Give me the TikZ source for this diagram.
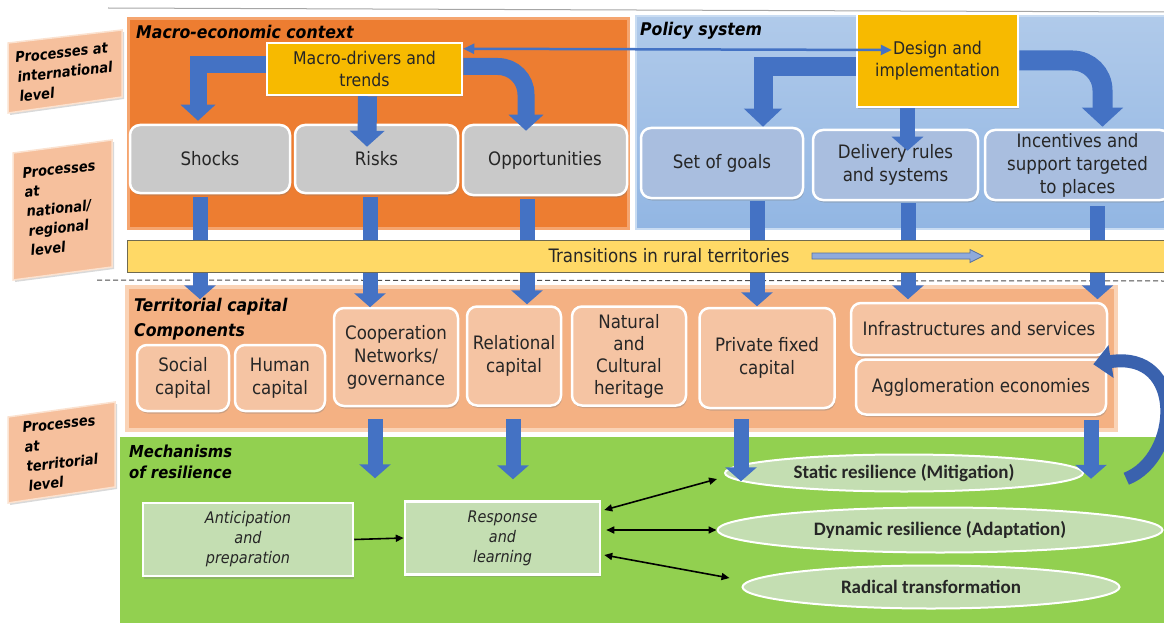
\documentclass[tikz,border=0pt]{standalone}
\usepackage{fontspec}
\setmainfont{DejaVu Sans Condensed}[BoldFont={DejaVu Sans Condensed Bold},ItalicFont={DejaVu Sans Condensed Oblique},BoldItalicFont={DejaVu Sans Condensed Bold Oblique}]
\newfontfamily\ellfont{Carlito}
\usetikzlibrary{arrows.meta,calc,shadows,shapes.geometric}
\definecolor{orangec}{HTML}{ED7D31}
\definecolor{orangeedge}{HTML}{F5A56F}
\definecolor{bluetop}{HTML}{B0CAEA}
\definecolor{bluebot}{HTML}{92B6E3}
\definecolor{blueedge}{HTML}{C9DCF2}
\definecolor{terrc}{HTML}{F4B183}
\definecolor{terredge}{HTML}{FAD3B6}
\definecolor{greenc}{HTML}{92D050}
\definecolor{grayc}{HTML}{C9C9C9}
\definecolor{boxblue}{HTML}{A9BEDF}
\definecolor{compc}{HTML}{F5C4A3}
\definecolor{goldc}{HTML}{F7BA00}
\definecolor{mechc}{HTML}{C4DEB2}
\definecolor{transc}{HTML}{FFD966}
\definecolor{transedge}{HTML}{6F6A50}
\definecolor{arrblue}{HTML}{4472C4}
\definecolor{arrdark}{HTML}{3A62AE}
\definecolor{lvlc}{HTML}{F6C09D}
\definecolor{lvledge}{HTML}{FBE2D0}
\definecolor{txtc}{HTML}{262626}
\definecolor{hollowfill}{HTML}{8FAADC}
\definecolor{hollowdraw}{HTML}{56709E}
\tikzset{
  base/.style={text=txtc, align=center, inner sep=1pt},
  mtxt/.style={font=\fontsize{18.5}{23}\selectfont},
  shad/.style={drop shadow={opacity=0.35,shadow xshift=1pt,shadow yshift=-2.5pt}},
  graybox/.style={base, mtxt, rounded corners=10pt, fill=grayc, draw=white, line width=2.5pt, shad},
  bluebox/.style={graybox, fill=boxblue},
  compbox/.style={graybox, fill=compc},
  goldbox/.style={base, mtxt, fill=goldc, draw=white, line width=2.5pt, shad},
  mechbox/.style={base, font=\itshape\fontsize{16}{20}\selectfont, fill=mechc, draw=white, line width=2.5pt, shad},
  ellbox/.style={ellipse, base, inner sep=0pt, font=\ellfont\bfseries\fontsize{19}{22}\selectfont, fill=mechc, draw=white, line width=2pt},
  titletxt/.style={anchor=west, align=left, text=black, inner sep=0pt, font=\bfseries\itshape\fontsize{17.5}{25}\selectfont},
  lvlbox/.style={fill=lvlc, draw=lvledge, line width=1.5pt, drop shadow={opacity=0.3,shadow xshift=2pt,shadow yshift=-2pt}},
  lvltxt/.style={align=left, text=black, rotate=6, inner sep=0pt, font=\bfseries\itshape\fontsize{14.5}{19.5}\selectfont},
  blockarr/.style={draw=arrblue, line width=17pt, -{Triangle[width=34pt,length=16pt]}},
  bigarr/.style={draw=arrblue, line width=20pt, -{Triangle[width=40pt,length=19pt]}},
  downarr/.style={draw=arrblue, line width=15pt, -{Triangle[width=31pt,length=14pt]}},
  mecharr/.style={draw=black, line width=1.6pt, {Triangle[length=8pt,width=7pt]}-{Triangle[length=8pt,width=7pt]}},
  linkarr/.style={draw=arrblue, line width=2.5pt, {Triangle[length=11pt,width=10pt]}-{Triangle[length=11pt,width=10pt]}}
}
\begin{document}
\begin{tikzpicture}[x=1pt,y=-1pt]
\useasboundingbox (0,0) rectangle (1164,623);
\clip (0,0) rectangle (1164,623);
% top rule
\draw[gray!70, line width=1pt] (108,8) -- (1164,12);
% level labels
\filldraw[lvlbox] (8,43) -- (122,30) -- (122,97) -- (8,113) -- cycle;
\node[lvltxt] (lvl1) at (65,72) {Processes at\\international\\level};
\filldraw[lvlbox] (13,153) -- (112,140) -- (112,267) -- (13,280) -- cycle;
\node[lvltxt] (lvl2) at (63,208) {Processes\\at\\national/\\regional\\level};
\filldraw[lvlbox] (8,417) -- (115,402) -- (115,487) -- (8,503) -- cycle;
\node[lvltxt] (lvl3) at (62,453) {Processes\\at\\territorial\\level};
% background panels
\draw[draw=orangeedge, line width=3pt, fill=orangec] (128.5,18.5) rectangle (628.5,228.5);
\draw[draw=blueedge, line width=2pt, top color=bluetop, bottom color=bluebot] (636,16) rectangle (1172,229);
\draw[draw=terredge, line width=4pt, fill=terrc] (127,287) rectangle (1116,430);
\fill[greenc] (120,437) rectangle (1172,630);
\draw[draw=black!70, line width=1pt, dash pattern=on 5pt off 3pt] (97,280) -- (1164,281);
% titles
\node[titletxt] (tmacro) at (136,32) {Macro-economic context};
\node[titletxt] (tpolicy) at (640,31) {Policy system};
\node[titletxt] (tterr) at (134,319) {Territorial capital\\Components};
\node[titletxt, font=\bfseries\itshape\fontsize{16.5}{20.5}\selectfont] (tmech) at (129,462) {Mechanisms\\of resilience};
% top boxes
\node[goldbox, minimum width=195pt, minimum height=52pt, font=\fontsize{17.5}{22}\selectfont] (macro) at (364.5,69) {Macro-drivers and\\trends};
\node[goldbox, minimum width=161pt, minimum height=93pt, font=\fontsize{17.5}{22}\selectfont] (design) at (937.5,60.5) {Design and\\implementation};
\node[graybox, minimum width=160pt, minimum height=68pt] (shocks) at (210,159) {Shocks};
\node[graybox, minimum width=163pt, minimum height=68pt] (risks) at (376.5,159) {Risks};
\node[graybox, minimum width=164pt, minimum height=70pt] (opp) at (545,160) {Opportunities};
\node[bluebox, minimum width=162pt, minimum height=70pt] (goals) at (722,163) {Set of goals};
\node[bluebox, minimum width=165pt, minimum height=70pt] (delivery) at (895.5,165) {Delivery rules\\and systems};
\node[bluebox, minimum width=185pt, minimum height=70pt] (incent) at (1077.5,165) {Incentives and\\support targeted\\to places};
% territorial capital components
\node[compbox, minimum width=92pt, minimum height=66pt] (social) at (183,378) {Social\\capital};
\node[compbox, minimum width=90pt, minimum height=66pt] (human) at (280,378) {Human\\capital};
\node[compbox, minimum width=124pt, minimum height=98pt] (coop) at (396,357) {Cooperation\\Networks/\\governance};
\node[compbox, minimum width=94pt, minimum height=99pt] (relational) at (514,356) {Relational\\capital};
\node[compbox, minimum width=114pt, minimum height=99pt, font=\fontsize{18.5}{22}\selectfont] (natural) at (629,356) {Natural\\and\\Cultural\\heritage};
\node[compbox, minimum width=135pt, minimum height=100pt] (private) at (767,358) {Private fixed\\capital};
\node[compbox, minimum width=256pt, minimum height=52pt] (infra) at (979,329) {Infrastructures and services};
\node[compbox, minimum width=250pt, minimum height=55pt] (agglo) at (981,387) {Agglomeration economies};
% mechanisms
\node[mechbox, minimum width=210pt, minimum height=73pt] (antic) at (248,539.5) {Anticipation\\and\\preparation};
\node[mechbox, minimum width=195pt, minimum height=73pt] (resp) at (502.5,538) {Response\\and\\learning};
\node[ellbox, minimum width=358pt, minimum height=37pt] (static) at (904,473) {Static resilience (Mitigation)};
\node[ellbox, minimum width=445pt, minimum height=45pt] (dynamic) at (940,530) {Dynamic resilience (Adaptation)};
\node[ellbox, minimum width=377pt, minimum height=43pt] (radical) at (931,587) {Radical transformation};
% top block arrows
\draw[blockarr] ($(macro.west)+(0,-4)$) -| ($(shocks.north)+(-12,-3)$);
\draw[blockarr, line width=19pt] ($(macro.south)+(3,0)$) -- ($(risks.north)+(-9.5,23)$);
\draw[blockarr, rounded corners=28pt] ($(macro.east)+(0,-2.5)$) -| ($(opp.north)+(-19,7)$);
\draw[blockarr, line width=19pt, -{Triangle[width=37pt,length=18pt]}] ($(design.west)+(0,6)$) -| ($(goals.north)+(41,0)$);
\draw[downarr] ($(design.south)+(-30,0)$) -- ($(delivery.north)+(12,22)$);
\draw[bigarr, rounded corners=30pt] (design.east) -| ($(incent.north)+(25,-2)$);
\draw[linkarr] ($(macro.north east)+(0,7)$) -- ($(design.west)+(36,-10.5)$);
% arrows down to territorial capital
\draw[downarr] ($(shocks.south)+(-10,3)$) -- ++(0,102);
\draw[downarr] ($(risks.south)+(-6.5,3)$) -- ++(0,110);
\draw[downarr] ($(opp.south)+(-18,3)$) -- ++(0,105);
\draw[downarr] ($(goals.south)+(35,2)$) -- ++(0,105);
\draw[downarr] ($(delivery.south)+(12.5,2)$) -- ++(0,96);
\draw[downarr] ($(incent.south)+(20,5)$) -- ++(0,93);
% transitions bar
\node[fill=transc, draw=transedge, line width=1pt, minimum width=1045pt, minimum height=32pt, inner sep=0pt] (trans) at (649.5,256) {};
\node[base, mtxt] (transtext) at (669,256) {Transitions in rural territories};
\filldraw[fill=hollowfill, draw=hollowdraw, line width=0.8pt] (812,253) -- (970,253) -- (970,249.5) -- (983,256) -- (970,262.5) -- (970,259) -- (812,259) -- cycle;
% arrows down to mechanisms
\draw[downarr] ($(coop.south)+(-21,12)$) -- ++(0,59);
\draw[downarr] ($(relational.south)+(-1,12.5)$) -- ++(0,60);
\draw[downarr] ($(private.south)+(-26,10)$) -- ++(0,62);
\draw[downarr] ($(agglo.south)+(110,4)$) -- ++(0,59);
% feedback arc
\draw[draw=arrdark, line width=13pt, -{Triangle[width=32pt,length=18pt]}] ($(agglo.south east)+(19,63)$) .. controls (1180,458) and (1186,350) .. ($(agglo.north east)+(-14,6)$);
% mechanism arrows
\draw[draw=black, line width=1.6pt, -{Triangle[length=8pt,width=7pt]}] (antic.east) -- (resp.west);
\draw[mecharr] ($(resp.east)+(3,-28)$) -- ($(static.west)+(-7,6)$);
\draw[mecharr] ($(resp.east)+(5,-8)$) -- (dynamic.west);
\draw[mecharr] ($(resp.east)+(3,17)$) -- ($(radical.west)+(-12,-9)$);
\end{tikzpicture}
\end{document}
